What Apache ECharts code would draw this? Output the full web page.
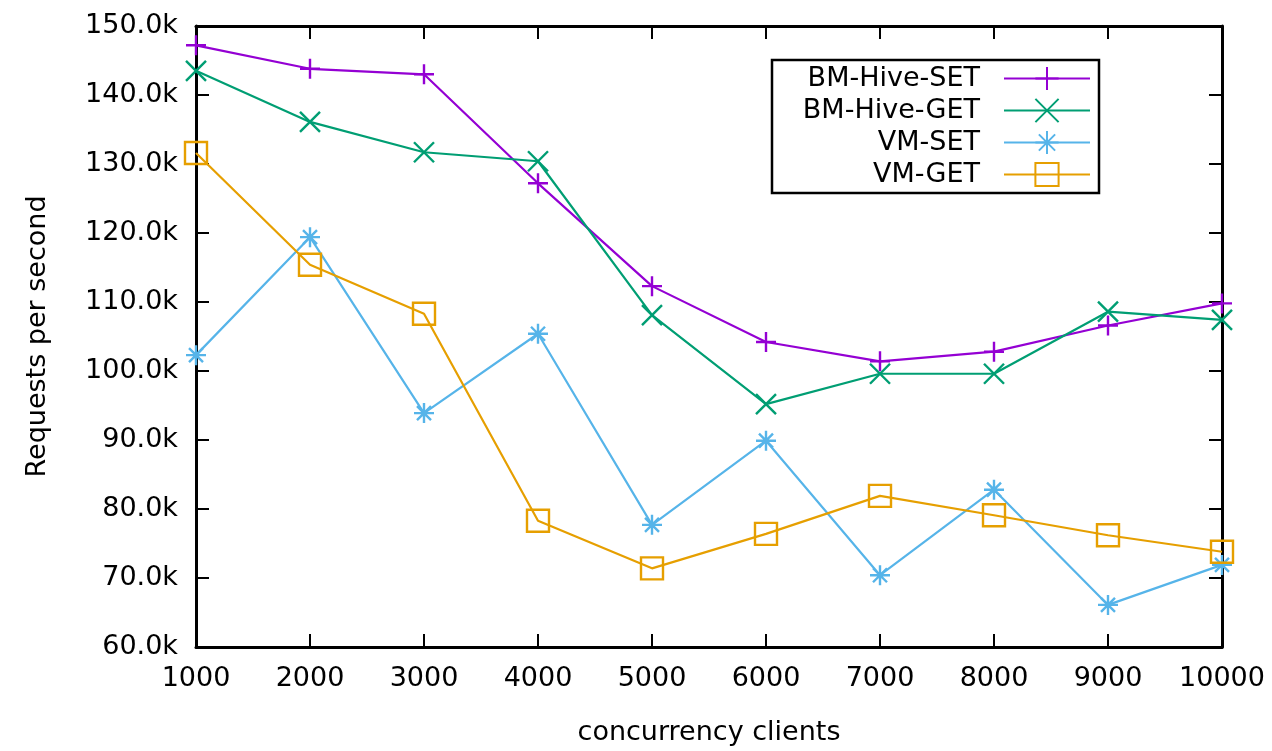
<!DOCTYPE html>
<html>
  <head>
    <title>Requests per second vs concurrency</title>
    <meta charset='utf-8' />
    <style>
      html, body { margin: 0; padding: 0; background: #fff; }
    </style>
  </head>
  <body>
    <div id="content" style="width: 1272px; height: 751px;"></div>

    <script src="https://cdn.jsdelivr.net/npm/echarts@6/dist/echarts.min.js"></script>
    <script type="text/javascript">
      // concurrency clients on the x axis
      var clients = [1000, 2000, 3000, 4000, 5000, 6000, 7000, 8000, 9000, 10000];

      // requests per second
      var bmHiveSet = [147200, 143800, 143000, 127200, 112300, 104200, 101400, 102800, 106600, 109800];
      var bmHiveGet = [143500, 136100, 131700, 130400, 108100, 95200, 99600, 99600, 108600, 107400];
      var vmSet = [102300, 119400, 93900, 105400, 77700, 89900, 70400, 82800, 66100, 71900];
      var vmGet = [131600, 115400, 108300, 78300, 71400, 76400, 81900, 79100, 76200, 73800];

      var seriesNames = ['BM-Hive-SET', 'BM-Hive-GET', 'VM-SET', 'VM-GET'];
      var colors = ['#9400d3', '#009e73', '#56b4e9', '#e69f00'];

      // gnuplot style point shapes
      var plusPath = 'path://M5,0L5,10M0,5L10,5';
      var crossPath = 'path://M0,0L10,10M10,0L0,10';
      var starPath = 'path://M5,0L5,10M0,5L10,5M1.5,1.5L8.5,8.5M8.5,1.5L1.5,8.5';
      var boxPath = 'path://M0,0L10,0L10,10L0,10Z';

      function pairs(values) {
        var out = [];
        for (var i = 0; i < clients.length; i++) {
          out.push([clients[i], values[i]]);
        }
        return out;
      }

      function makeSeries(name, values, color, symbol, size) {
        return {
          name: name,
          type: 'line',
          data: pairs(values),
          symbol: symbol,
          symbolSize: size,
          showAllSymbol: true,
          lineStyle: { color: color, width: 2.2 },
          itemStyle: { color: 'rgba(0,0,0,0)', borderColor: color, borderWidth: 2.4 },
          emphasis: { disabled: true },
          animation: false
        };
      }

      var font = 'DejaVu Sans';
      var fs = 27;
      var chart = echarts.init(document.getElementById('content'));

      chart.setOption({
        animation: false,
        grid: { left: 196, right: 50, top: 26, bottom: 104 },
        legend: {
          orient: 'vertical',
          left: 772,
          top: 60,
          align: 'right',
          backgroundColor: '#fff',
          borderColor: '#000',
          borderWidth: 2.5,
          padding: [5, 8, 5, 8],
          itemGap: 5,
          itemWidth: 86,
          itemHeight: 29,
          textStyle: {
            fontFamily: font, fontSize: fs, color: '#000',
            width: 200, align: 'right', lineHeight: 26, padding: [0, 19, 0, 0]
          },
          data: seriesNames
        },
        xAxis: [{
          type: 'value',
          min: 1000,
          max: 10000,
          interval: 1000,
          name: 'concurrency clients',
          nameLocation: 'middle',
          nameGap: 72,
          nameTextStyle: { fontFamily: font, fontSize: fs, color: '#000' },
          axisLine: { lineStyle: { color: '#000', width: 3 } },
          axisTick: { inside: true, length: 13, lineStyle: { color: '#000', width: 2 } },
          axisLabel: {
            fontFamily: font, fontSize: fs, color: '#000', margin: 18,
            formatter: function (v) { return String(v); }
          },
          splitLine: { show: false }
        }, {
          type: 'value',
          position: 'top',
          min: 1000,
          max: 10000,
          interval: 1000,
          axisLine: { lineStyle: { color: '#000', width: 3 } },
          axisTick: { inside: true, length: 13, lineStyle: { color: '#000', width: 2 } },
          axisLabel: { show: false },
          splitLine: { show: false }
        }],
        yAxis: [{
          type: 'value',
          min: 60000,
          max: 150000,
          interval: 10000,
          name: 'Requests per second',
          nameLocation: 'middle',
          nameGap: 145,
          nameTextStyle: { fontFamily: font, fontSize: fs, color: '#000' },
          axisLine: { show: true, lineStyle: { color: '#000', width: 3 } },
          axisTick: { show: true, inside: true, length: 13, lineStyle: { color: '#000', width: 2 } },
          axisLabel: {
            fontFamily: font, fontSize: fs, color: '#000', margin: 18,
            formatter: function (v) { return (v / 1000).toFixed(1) + 'k'; }
          },
          splitLine: { show: false }
        }, {
          type: 'value',
          position: 'right',
          min: 60000,
          max: 150000,
          interval: 10000,
          axisLine: { show: true, lineStyle: { color: '#000', width: 3 } },
          axisTick: { show: true, inside: true, length: 13, lineStyle: { color: '#000', width: 2 } },
          axisLabel: { show: false },
          splitLine: { show: false }
        }],
        series: [
          makeSeries(seriesNames[0], bmHiveSet, colors[0], plusPath, 20),
          makeSeries(seriesNames[1], bmHiveGet, colors[1], crossPath, 20),
          makeSeries(seriesNames[2], vmSet, colors[2], starPath, 20),
          makeSeries(seriesNames[3], vmGet, colors[3], boxPath, 22)
        ]
      });
    </script>
  </body>
</html>
